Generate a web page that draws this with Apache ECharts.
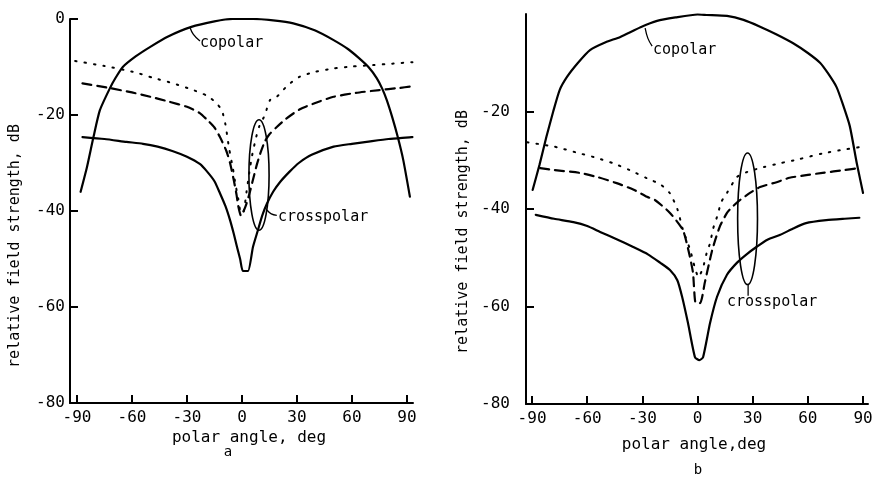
<!DOCTYPE html>
<html><head><meta charset="utf-8">
<script src="https://cdn.jsdelivr.net/npm/echarts@6/dist/echarts.min.js"></script>
<style>html,body{margin:0;padding:0;background:#fff}#c{width:880px;height:480px}</style>
</head><body><div id="c"></div>
<script>
// ---------- data (angle deg, level dB) ----------
const xTicks = [-90, -60, -30, 0, 30, 60, 90];
const yTicksA = [0, -20, -40, -60, -80];
const yTicksB = [-20, -40, -60, -80];

// panel a
const copolarA = [[-88,-36],[-84.5,-30.8],[-81,-24.6],[-77.5,-19],[-72,-14.4],[-69,-12.3],[-65,-10],[-58,-7.8],[-50,-5.8],[-40,-3.6],[-28,-1.7],[-15,-0.5],[-5,0],[6,0],[17,-0.3],[28,-0.9],[40,-2.4],[50,-4.4],[58,-6.3],[64,-8.2],[69,-10],[73.5,-12.3],[76.5,-14.5],[79,-16.9],[82,-20.5],[85,-24.6],[88,-29.4],[91.6,-37]];
const dottedA = [[-91,-8.75],[-75,-9.8],[-59.5,-11],[-48,-12.3],[-37.6,-13.4],[-28,-14.6],[-19,-16],[-14,-17.5],[-11,-19],[-9,-22],[-7,-27],[-5,-31],[-3.5,-34.5],[-2,-37.5],[-0.5,-40.5],[1,-40],[2.5,-36],[4,-32],[5.5,-28.5],[7.5,-25],[9.5,-22.3],[12.5,-20],[15.3,-16.9],[19,-16.2],[25,-13.8],[31.6,-12],[40,-11],[50,-10.3],[60,-9.9],[71.5,-9.6],[82,-9.3],[93,-9]];
const dashedA = [[-87,-13.4],[-72,-14.4],[-60,-15.3],[-50,-16.2],[-40,-17.2],[-30,-18.3],[-23,-19.6],[-19,-21],[-15,-22.6],[-12,-24.6],[-8.5,-27.5],[-6.5,-30],[-4.5,-33.5],[-3,-36.5],[-2,-39],[-0.5,-41],[2,-39],[4,-36.5],[6,-33.5],[8,-30.5],[10,-28],[12.5,-25.5],[15,-24],[19,-22.5],[24,-20.8],[31.6,-18.8],[40,-17.5],[50,-16.2],[62,-15.4],[75,-14.8],[85,-14.4],[93,-14]];
const solidXA = [[-87,-24.6],[-75,-25],[-63,-25.6],[-54,-26],[-46,-26.6],[-38,-27.5],[-30,-28.7],[-23,-30.2],[-19,-31.8],[-15,-33.8],[-12,-36.3],[-9,-39],[-6.5,-41.9],[-4.5,-44.7],[-2.7,-47.5],[-1,-50],[0.5,-52.5],[3.3,-52.5],[6,-47.5],[8.7,-44],[11,-41],[13.6,-38.5],[17,-36],[20.7,-34],[26,-31.8],[31,-30],[38,-28.3],[50,-26.6],[60,-26],[68,-25.6],[80,-25],[93,-24.6]];
const ellipseA = [[9.3, -32.5, 5.5, 11.5]];
const labelsA = [[-22.9, -5, 'copolar'], [19.6, -41.3, 'crosspolar']];
const leaderA1 = [[-28.4, -1.7], [-26.5, -3.2], [-22.9, -4.6]];
const leaderA2 = [[13.6, -39.8], [16, -40.6], [19, -40.9]];

// panel b
const copolarB = [[-89.7,-36.1],[-86,-31],[-82.2,-25.2],[-78.5,-20],[-75,-15.6],[-71,-12.9],[-65,-10],[-58.5,-7.4],[-50,-5.8],[-42,-4.7],[-31,-2.7],[-22,-1.4],[-12,-0.7],[0,-0.1],[5,-0.2],[16,-0.4],[25,-1.2],[34,-2.6],[43,-4.2],[52,-6],[60,-8],[66.6,-10],[71,-12.2],[75.6,-15],[79,-18.5],[82.8,-23],[86.6,-30.6],[90,-36.7]];
const dottedB = [[-92.7,-26.3],[-78,-27.2],[-64,-28.6],[-55,-29.5],[-46,-30.6],[-37,-32],[-27.5,-33.7],[-20,-35],[-15,-36.8],[-11,-40],[-7.9,-44.3],[-4,-48.4],[-1.5,-52],[0.5,-54],[3,-52],[5,-49],[6.8,-47],[8.5,-44],[10.6,-41.6],[13,-38.5],[16,-36.7],[21.5,-33.4],[27,-32.4],[36,-31.4],[45,-30.6],[55,-29.8],[68,-28.6],[80,-27.8],[90,-27.2]];
const dashedB = [[-85.6,-31.6],[-78,-32],[-64,-32.6],[-54,-33.5],[-44,-34.7],[-35,-36],[-27.5,-37.5],[-23,-38.2],[-15,-40.8],[-8,-44.3],[-5,-48.4],[-2.5,-53],[-1,-59.3],[1.4,-59.3],[4,-55],[8,-48.4],[12,-43.7],[16,-40.8],[18.8,-39.6],[23,-38.2],[28.5,-36.7],[34,-35.5],[43,-34.5],[50,-33.6],[60,-33],[68,-32.6],[80,-32],[88,-31.6]];
const solidXB = [[-88,-41.2],[-78,-42],[-67.5,-42.7],[-60,-43.5],[-53,-44.7],[-44,-46.2],[-35,-47.8],[-27,-49.3],[-20.4,-51],[-15,-52.5],[-11,-54.6],[-8.4,-58],[-5.2,-63.4],[-1.4,-70.4],[1,-71],[3,-70.4],[6.8,-63.4],[10.6,-58],[16,-53.5],[21.5,-51],[27,-49.2],[32,-47.8],[38,-46.3],[45,-45.3],[52,-44],[59,-42.9],[70,-42.3],[80,-42],[88,-41.8]];
const ellipseB = [[27.2, -42, 5.4, 13.5]];
const labelsB = [[-24.2, -7.4, 'copolar'], [16, -59.1, 'crosspolar']];
const leaderB1 = [[-28.5, -2.9], [-27, -5], [-24.7, -6.6]];
const leaderB2 = [[27.5, -55.6], [27.5, -57.8]];

// ---------- chart ----------
const FONT = 'DejaVu Sans Mono';
const chart = echarts.init(document.getElementById('c'), null, {renderer: 'canvas'});

function xAxisCfg(gi, min, max) {
  return {
    type: 'value', gridIndex: gi, min: min, max: max,
    axisLine: {show: true, onZero: false, lineStyle: {color: '#000', width: 2}},
    axisTick: {show: true, inside: true, length: 8, customValues: xTicks, lineStyle: {color: '#000', width: 2}},
    axisLabel: {customValues: xTicks, color: '#000', fontSize: 16, fontFamily: FONT, margin: 7},
    splitLine: {show: false}
  };
}
function yAxisCfg(gi, ticks, margin) {
  return {
    type: 'value', gridIndex: gi, min: -80, max: 0,
    axisLine: {show: true, onZero: false, lineStyle: {color: '#000', width: 2}},
    axisTick: {show: true, inside: true, length: 8, customValues: ticks, lineStyle: {color: '#000', width: 2}},
    axisLabel: {customValues: ticks, color: '#000', fontSize: 16, fontFamily: FONT, margin: margin},
    splitLine: {show: false}
  };
}
function lineS(gi, data, type, width, dash) {
  return {
    type: 'line', xAxisIndex: gi, yAxisIndex: gi, data: data, symbol: 'none', smooth: 0.2,
    lineStyle: {color: '#000', width: width, type: dash || type, cap: 'round', join: 'round'}, silent: true, z: 3
  };
}
function ellipseS(gi, data) {
  return {
    type: 'custom', xAxisIndex: gi, yAxisIndex: gi, data: data, silent: true, clip: false, z: 4,
    renderItem: function (params, api) {
      const c = api.coord([api.value(0), api.value(1)]);
      const s = api.size([api.value(2), api.value(3)]);
      return {type: 'ellipse', shape: {cx: c[0], cy: c[1], rx: s[0], ry: s[1]},
              style: {fill: 'none', stroke: '#000', lineWidth: 1.6}};
    }
  };
}
function labelS(gi, data) {
  return {
    type: 'custom', xAxisIndex: gi, yAxisIndex: gi, data: data, silent: true, clip: false, z: 5,
    renderItem: function (params, api) {
      const c = api.coord([api.value(0), api.value(1)]);
      return {type: 'text', x: c[0], y: c[1],
              style: {text: data[params.dataIndex][2], fill: '#000', font: '15px "' + FONT + '"',
                      align: 'left', verticalAlign: 'middle'}};
    }
  };
}
function leaderS(gi, data) {
  return {type: 'line', xAxisIndex: gi, yAxisIndex: gi, data: data, symbol: 'none', smooth: 0.4,
          lineStyle: {color: '#000', width: 1.3}, silent: true, z: 4};
}

const txt = (x, y, t, size, rot) => ({
  type: 'text', x: x, y: y, rotation: rot || 0, silent: true,
  style: {text: t, fill: '#000', font: size + 'px "' + FONT + '"', align: 'center', verticalAlign: 'middle'}
});

chart.setOption({
  animation: false,
  backgroundColor: '#fff',
  grid: [
    {left: 70, top: 19, width: 343, height: 384, containLabel: false},
    {left: 526, top: 14, width: 342, height: 390, containLabel: false}
  ],
  xAxis: [xAxisCfg(0, -93.8, 93.3), xAxisCfg(1, -93.3, 92.7)],
  yAxis: [yAxisCfg(0, yTicksA, 5), yAxisCfg(1, yTicksB, 16)],
  series: [
    lineS(0, copolarA, 'solid', 2.2),
    lineS(0, dottedA, 'dotted', 2, [1.5, 8]),
    lineS(0, dashedA, 'dashed', 2.2, [9, 6]),
    lineS(0, solidXA, 'solid', 2.2),
    ellipseS(0, ellipseA),
    labelS(0, labelsA),
    leaderS(0, leaderA1),
    leaderS(0, leaderA2),
    lineS(1, copolarB, 'solid', 2.2),
    lineS(1, dottedB, 'dotted', 2, [1.5, 8]),
    lineS(1, dashedB, 'dashed', 2.2, [9, 6]),
    lineS(1, solidXB, 'solid', 2.2),
    ellipseS(1, ellipseB),
    labelS(1, labelsB),
    leaderS(1, leaderB1),
    leaderS(1, leaderB2)
  ],
  graphic: [
    txt(15, 246, 'relative field strength, dB', 15, Math.PI / 2),
    txt(463, 232, 'relative field strength, dB', 15, Math.PI / 2),
    txt(249, 438, 'polar angle, deg', 16),
    txt(694, 445, 'polar angle,deg', 16),
    txt(228, 452, 'a', 14),
    txt(698, 470, 'b', 14)
  ]
});
</script></body></html>
